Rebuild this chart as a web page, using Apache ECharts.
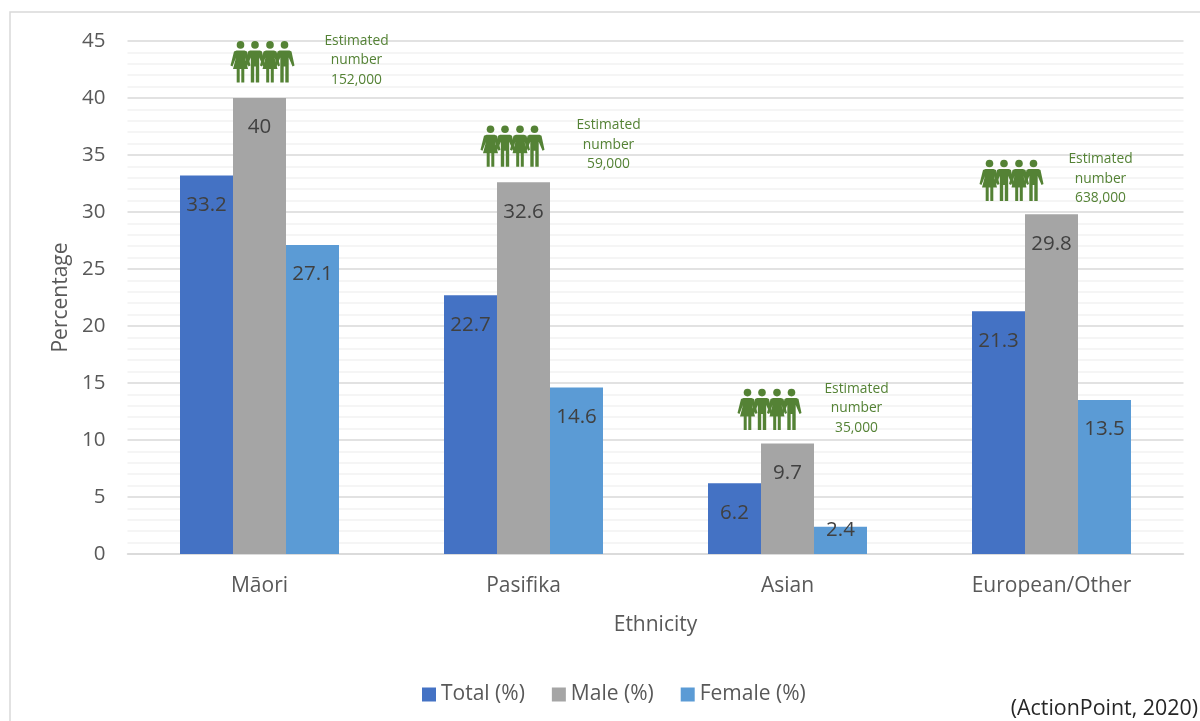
<!DOCTYPE html>
<html><head><meta charset="utf-8">
<script src="https://cdn.jsdelivr.net/npm/echarts@6/dist/echarts.min.js"></script>
<style>html,body{margin:0;background:#fff}#c{width:1200px;height:721px}</style></head>
<body><div id="c"></div>
<script>
const categories = ['Māori','Pasifika','Asian','European/Other'];
const total = [33.2,22.7,6.2,21.3];
const male = [40,32.6,9.7,29.8];
const female = [27.1,14.6,2.4,13.5];
const estimates = ['152,000','59,000','35,000','638,000'];
const iconLevels = [43.3,35.9,12.8,32.9];
const iconShift = [3,-11,-18,-40];
const noteShift = [97,85,69,49];
const yTicks = [0,5,10,15,20,25,30,35,40,45];

const GREEN='#548235', TEXT='#595959';
const FONT='"Open Sans"';
function figure(cx,cy,isFemale){
  const body = [];
  body.push({type:'circle',shape:{cx:cx,cy:cy-15.5,r:3.8},style:{fill:GREEN}});
  const p = isFemale
   ? `M${cx-4} ${cy-10} L${cx+4} ${cy-10} L${cx+6.5} ${cy-9} L${cx+10} ${cy+5} L${cx+8} ${cy+6} L${cx+4.5} ${cy-3} L${cx+7.5} ${cy+8.5} L${cx+3.8} ${cy+8.5} L${cx+3.8} ${cy+22} L${cx+0.8} ${cy+22} L${cx+0.8} ${cy+8.5} L${cx-0.8} ${cy+8.5} L${cx-0.8} ${cy+22} L${cx-3.8} ${cy+22} L${cx-3.8} ${cy+8.5} L${cx-7.5} ${cy+8.5} L${cx-4.5} ${cy-3} L${cx-8} ${cy+6} L${cx-10} ${cy+5} L${cx-6.5} ${cy-9} Z`
   : `M${cx-5} ${cy-10} L${cx+5} ${cy-10} L${cx+7} ${cy-9} L${cx+10} ${cy+5} L${cx+8} ${cy+6} L${cx+4.2} ${cy-3} L${cx+4.2} ${cy+22} L${cx+0.8} ${cy+22} L${cx+0.8} ${cy+6} L${cx-0.8} ${cy+6} L${cx-0.8} ${cy+22} L${cx-4.2} ${cy+22} L${cx-4.2} ${cy-3} L${cx-8} ${cy+6} L${cx-10} ${cy+5} L${cx-7} ${cy-9} Z`;
  body.push({type:'path',shape:{pathData:p},style:{fill:GREEN}});
  return body;
}
function renderNote(params,api){
  const i=api.value(0);
  const c=api.coord([i,api.value(1)]);
  const cx=c[0]+iconShift[i], cy=c[1];
  let kids=[];
  [[-22,true],[-7.5,false],[7.5,true],[22,false]].forEach(f=>{kids=kids.concat(figure(cx+f[0],cy,f[1]));});
  kids.push({type:'text',style:{x:c[0]+noteShift[i],y:cy,text:'Estimated\nnumber\n'+estimates[i],fill:GREEN,font:'13.8px '+FONT,align:'center',verticalAlign:'middle',lineHeight:19.5}});
  return {type:'group',children:kids};
}
const label={show:true,position:'insideTop',distance:19,color:'#404040',fontFamily:FONT,fontSize:20.5};
const chart=echarts.init(document.getElementById('c'),null,{renderer:'canvas'});
chart.setOption({
  animation:false,
  textStyle:{fontFamily:FONT},
  graphic:[
    {type:'rect',silent:true,z:-10,shape:{x:10,y:12,width:1300,height:800},style:{fill:'#fff',stroke:'#d9d9d9',lineWidth:1.5}},
    {type:'text',right:2,top:698,style:{text:'(ActionPoint, 2020)',fill:'#262626',font:'21.4px '+FONT}}
  ],
  legend:{top:679,left:417,itemWidth:14,itemHeight:14,itemGap:27,icon:'rect',textStyle:{color:TEXT,fontSize:21,fontFamily:FONT},data:['Total (%)','Male (%)','Female (%)']},
  grid:{left:127.5,right:16.5,top:41,bottom:167,containLabel:false},
  xAxis:{type:'category',data:categories,name:'Ethnicity',nameLocation:'middle',nameGap:61,
    nameTextStyle:{color:TEXT,fontSize:21,fontFamily:FONT},
    axisTick:{show:false},axisLine:{lineStyle:{color:'#d9d9d9',width:1.5}},
    axisLabel:{color:TEXT,fontSize:21,margin:22,fontFamily:FONT}},
  yAxis:{type:'value',min:0,max:45,interval:5,name:'Percentage',nameLocation:'middle',nameGap:55,
    nameTextStyle:{color:TEXT,fontSize:21,fontFamily:FONT},
    axisLine:{show:false},axisTick:{show:false},
    axisLabel:{color:TEXT,fontSize:20.5,margin:22,fontFamily:FONT,padding:[7,0,0,0],customValues:yTicks},
    splitLine:{show:true,lineStyle:{color:'#d9d9d9',width:1.5}},
    minorTick:{show:false,splitNumber:5},
    minorSplitLine:{show:true,lineStyle:{color:'#f2f2f2',width:1.5}}},
  series:[
    {name:'Total (%)',type:'bar',data:total,barWidth:53,barGap:'0%',itemStyle:{color:'#4472c4'},label},
    {name:'Male (%)',type:'bar',data:male,barWidth:53,itemStyle:{color:'#a5a5a5'},label},
    {name:'Female (%)',type:'bar',data:female.map(v=>v<5?{value:v,label:{distance:-7}}:v),barWidth:53,itemStyle:{color:'#5b9bd5'},label},
    {type:'custom',name:'notes',silent:true,renderItem:renderNote,data:iconLevels.map((v,i)=>[i,v]),encode:{x:0,y:1},z:5,clip:false}
  ]
});
</script></body></html>
